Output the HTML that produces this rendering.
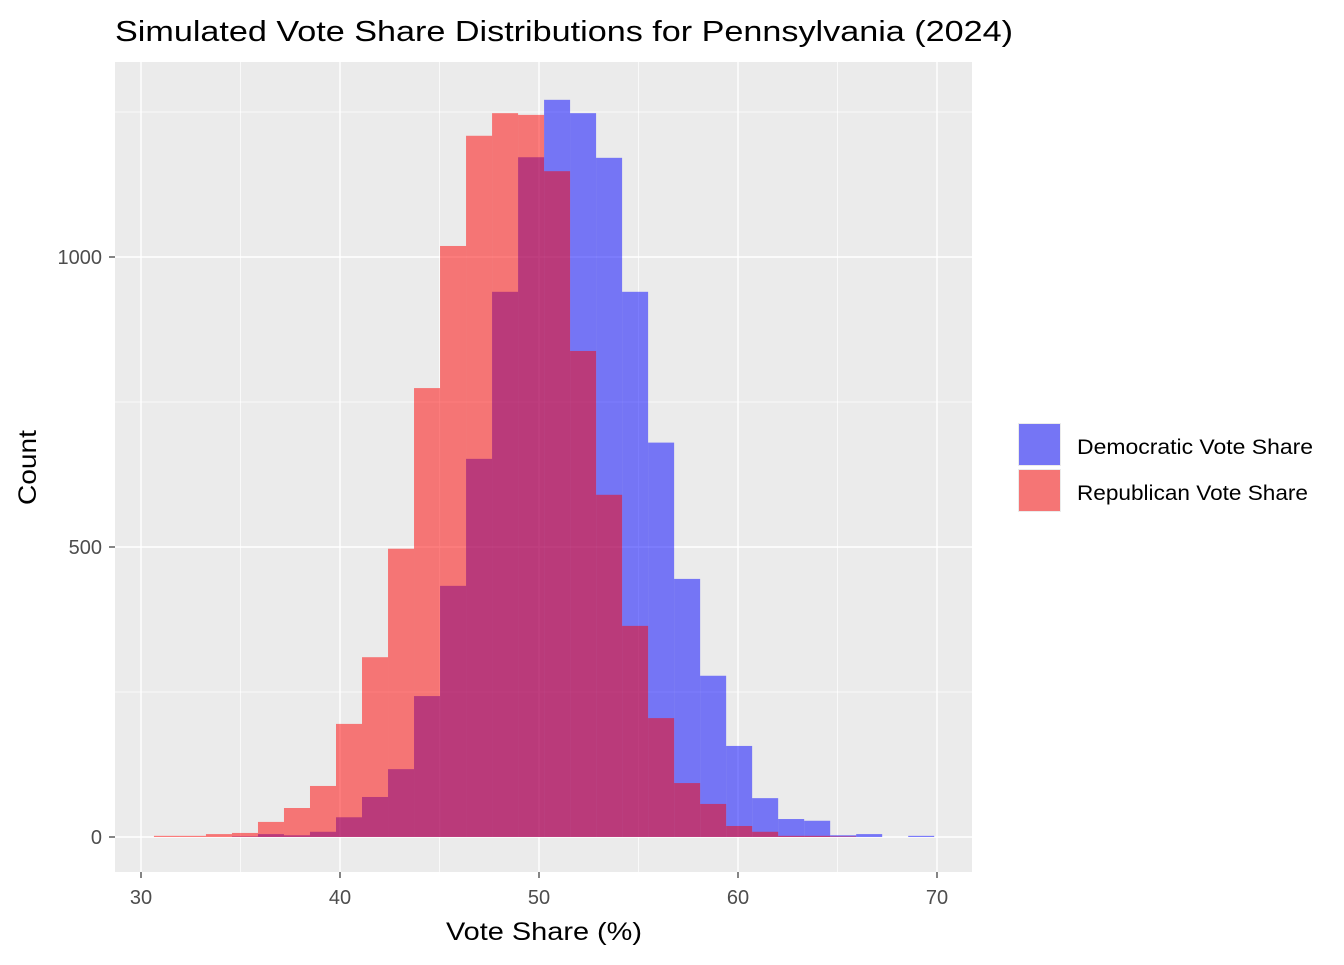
<!DOCTYPE html>
<html><head><meta charset="utf-8"><style>
body{margin:0;background:#fff;font-family:"Liberation Sans",Arial,sans-serif}
</style></head><body>
<svg id="chart" width="1344" height="960" xmlns="http://www.w3.org/2000/svg">
<text x="115" y="41" font-size="29" textLength="898" lengthAdjust="spacingAndGlyphs" fill="#000">Simulated Vote Share Distributions for Pennsylvania (2024)</text>
<rect x="115" y="62" width="857" height="810" fill="#EBEBEB"/>
<g id="grid"></g>
<g id="bars"></g>
<g id="axes"></g>
<text x="446" y="940" font-size="25" textLength="196" lengthAdjust="spacingAndGlyphs" fill="#000">Vote Share (%)</text>
<text transform="translate(36,505) rotate(-90)" font-size="25" textLength="75" lengthAdjust="spacingAndGlyphs" fill="#000">Count</text>
<g>
<rect x="1018" y="423" width="43" height="43" fill="#EBEBEB"/>
<rect x="1019" y="424" width="41" height="41" fill="#0000FF" fill-opacity="0.5"/>
<text x="1077" y="454" font-size="21" textLength="236" lengthAdjust="spacingAndGlyphs">Democratic Vote Share</text>
<rect x="1018" y="469" width="43" height="43" fill="#EBEBEB"/>
<rect x="1019" y="470" width="41" height="41" fill="#FF0000" fill-opacity="0.5"/>
<text x="1077" y="500" font-size="21" textLength="231" lengthAdjust="spacingAndGlyphs">Republican Vote Share</text>
</g>
</svg>
<script>
const binStart = 30.65;
const binWidth = 1.307;
const demCounts = [0,0,0,1,5,3,9,34,69,117,243,433,652,940,1172,1271,1248,1171,940,680,445,278,157,67,31,28,3,5,0,2];
const repCounts = [2,2,5,7,26,50,88,195,310,497,774,1019,1209,1248,1245,1148,838,590,364,205,93,57,19,9,2,2,1,0,0,0];
const xTicks = [30,40,50,60,70];
const xMinor = [35,45,55,65];
const yTicks = [0,500,1000];
const yMinor = [250,750,1250];

const NS = "http://www.w3.org/2000/svg";
const X = v => 141 + (v - 30) * 19.9;
const Y = v => 837 - v * 0.58;
function mk(tag, attrs, parent){const e=document.createElementNS(NS,tag);for(const k in attrs)e.setAttribute(k,attrs[k]);parent.appendChild(e);return e;}
const grid=document.getElementById('grid'), bars=document.getElementById('bars'), axes=document.getElementById('axes');
xMinor.forEach(v=>{const l=mk('line',{x1:X(v),x2:X(v),y1:62,y2:872,stroke:'#fff','stroke-width':0.7},grid);

});
yMinor.forEach(v=>{const l=mk('line',{x1:115,x2:972,y1:Y(v),y2:Y(v),stroke:'#fff','stroke-width':0.7},grid);

});
xTicks.forEach(v=>{const l=mk('line',{x1:X(v),x2:X(v),y1:62,y2:872,stroke:'#fff','stroke-width':1.4},grid);


const t=mk('line',{x1:X(v),x2:X(v),y1:872,y2:878,stroke:'#333','stroke-width':1.2},axes);


const tx=mk('text',{x:X(v),y:904,'font-size':20,'text-anchor':'middle',fill:'#4D4D4D'},axes);tx.textContent=v;

});
yTicks.forEach(v=>{const l=mk('line',{x1:115,x2:972,y1:Y(v),y2:Y(v),stroke:'#fff','stroke-width':1.4},grid);


const t=mk('line',{x1:109,x2:115,y1:Y(v),y2:Y(v),stroke:'#333','stroke-width':1.2},axes);


const tx=mk('text',{x:102,y:Y(v)+7,'font-size':20,'text-anchor':'end',fill:'#4D4D4D'},axes);tx.textContent=v;

});
demCounts.forEach((c,i)=>{if(c<=0)return;const x0=X(binStart+i*binWidth),x1=X(binStart+(i+1)*binWidth);
const r=mk('rect',{x:x0,y:Y(c),width:x1-x0,height:Y(0)-Y(c),fill:'#0000FF','fill-opacity':0.5},bars);

});
repCounts.forEach((c,i)=>{if(c<=0)return;const x0=X(binStart+i*binWidth),x1=X(binStart+(i+1)*binWidth);
const r=mk('rect',{x:x0,y:Y(c),width:x1-x0,height:Y(0)-Y(c),fill:'#FF0000','fill-opacity':0.5},bars);

});
</script>
</body></html>
